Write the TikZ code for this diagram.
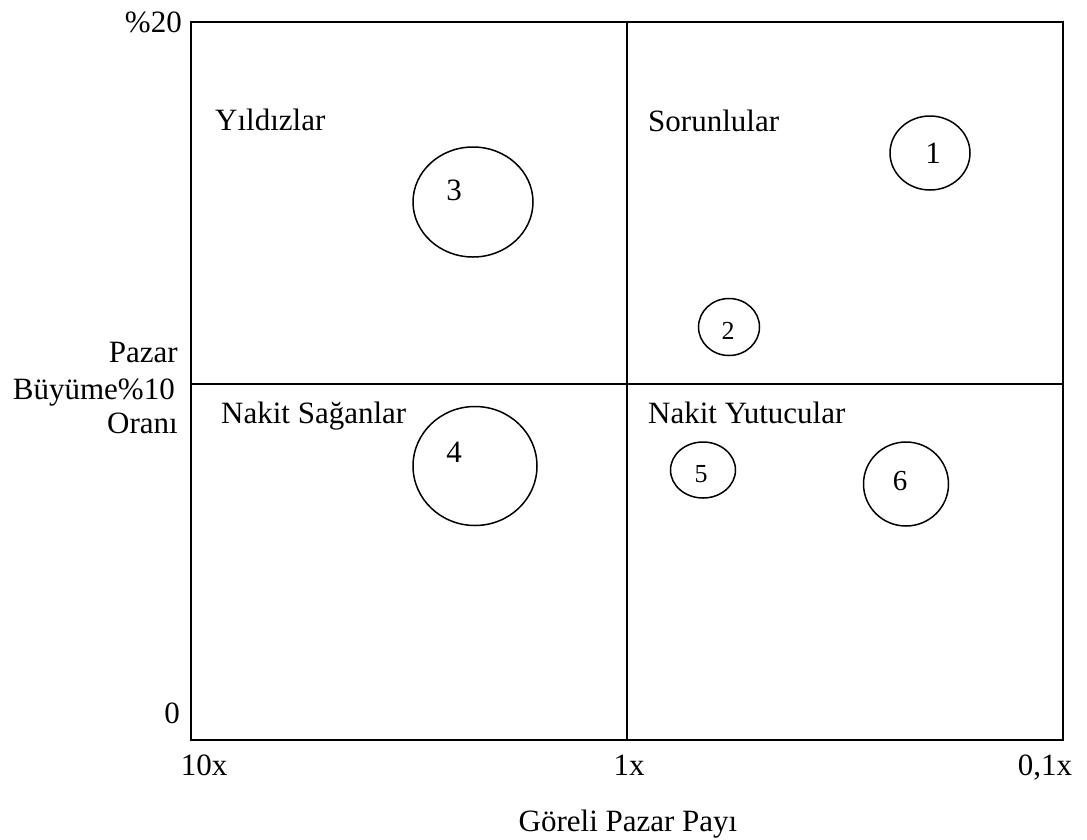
\documentclass[tikz,border=0pt]{standalone}
\usepackage{fontspec}
\setmainfont{Liberation Serif}
\begin{document}
\begin{tikzpicture}[x=1pt,y=-1pt,
  frame/.style={line width=1.6pt},
  bubble/.style={line width=1.5pt},
  lbl/.style={inner sep=0pt,font=\fontsize{31}{36}\selectfont},
  num/.style={inner sep=0pt,anchor=base,font=\fontsize{31}{36}\selectfont},
  smallnum/.style={inner sep=0pt,anchor=base,font=\fontsize{26}{30}\selectfont}]
  \useasboundingbox (0,0) rectangle (1087,839);

  % matrix frame and quadrant dividers
  \coordinate (tl) at (191,22);
  \coordinate (br) at (1063,740);
  \coordinate (mt) at (627,22);
  \coordinate (mb) at (627,740);
  \coordinate (ml) at (191,384);
  \coordinate (mr) at (1063,384);
  \draw[frame] (tl) rectangle (br);
  \draw[frame] (mt) -- (mb);
  \draw[frame] (ml) -- (mr);

  % quadrant titles
  \node[lbl,anchor=base west] (stars) at (215,130) {Yıldızlar};
  \node[lbl,anchor=base west] (questions) at (648,131) {Sorunlular};
  \node[lbl,anchor=base west] (cows) at (221,423) {Nakit Sağanlar};
  \node[lbl,anchor=base west] (dogs) at (648,423) {Nakit Yutucular};

  % business units
  \draw[bubble] (930,153) ellipse [x radius=40, y radius=37];
  \draw[bubble] (729,327) ellipse [x radius=30.5, y radius=28.5];
  \draw[bubble] (473,202) ellipse [x radius=60, y radius=55];
  \draw[bubble] (475,466) ellipse [x radius=62, y radius=59.5];
  \draw[bubble] (703,470) ellipse [x radius=32.5, y radius=28];
  \draw[bubble] (906,484) ellipse [x radius=42.5, y radius=42];

  \node[num] (n1) at (933,163) {1};
  \node[smallnum] (n2) at (728,339) {2};
  \node[num] (n3) at (454,200) {3};
  \node[num] (n4) at (454,462) {4};
  \node[smallnum] (n5) at (701,482) {5};
  \node[num,font=\fontsize{29}{34}\selectfont] (n6) at (900,490) {6};

  % vertical axis
  \node[lbl,anchor=base east] (ytop) at (182,32) {\%20};
  \node[lbl,anchor=base east] (ya) at (178,362) {Pazar};
  \node[lbl,anchor=base east] (yb) at (175,399) {Büyüme\%10};
  \node[lbl,anchor=base east] (yc) at (178,433) {Oranı};
  \node[lbl,anchor=base] (ybot) at (172,723) {0};

  % horizontal axis
  \node[lbl,anchor=base] (x10) at (204,775) {10x};
  \node[lbl,anchor=base] (x1) at (629,775) {1x};
  \node[lbl,anchor=base] (x01) at (1045,775) {0,1x};
  \node[lbl,anchor=base] (xtitle) at (628,831) {Göreli Pazar Payı};
\end{tikzpicture}
\end{document}
